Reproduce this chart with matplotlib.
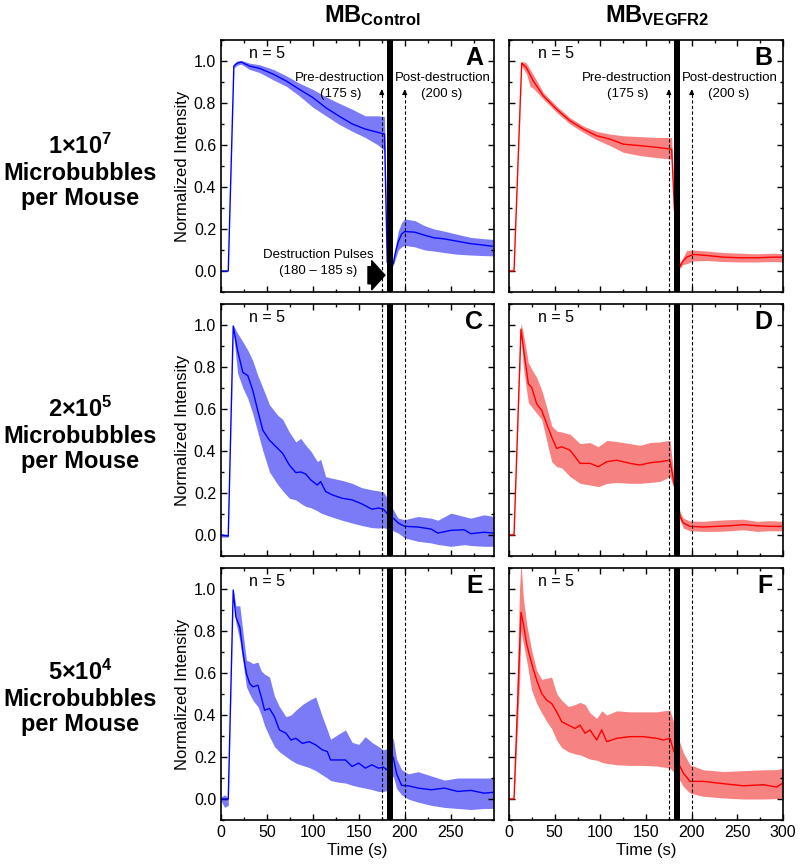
import numpy as np
import matplotlib
matplotlib.use("Agg")
import matplotlib.pyplot as plt
from matplotlib.ticker import MultipleLocator

plt.rcParams['font.family'] = ['Liberation Sans', 'DejaVu Sans']
plt.rcParams['mathtext.fontset'] = 'custom'
plt.rcParams['mathtext.rm'] = 'Liberation Sans'
plt.rcParams['mathtext.bf'] = 'Liberation Sans:bold'
plt.rcParams['mathtext.default'] = 'bf'

# ---- data: time (s), mean, lower and upper band ----
# A: MB control, 1e7
t_A = [0, 7.9, 14, 17.6, 22, 31, 42, 57, 71, 85, 100, 114, 128, 143, 157, 171, 178, 181, 187.5, 190, 193, 196.5, 200, 211, 222, 232, 243, 257, 272, 283, 297]
m_A = [0, 0, 0.976, 0.99, 0.995, 0.976, 0.965, 0.937, 0.905, 0.866, 0.826, 0.778, 0.739, 0.70, 0.676, 0.66, 0.652, 0.04, 0.035, 0.09, 0.14, 0.175, 0.188, 0.185, 0.17, 0.158, 0.153, 0.142, 0.13, 0.125, 0.117]
lo_A = [0, 0, 0.966, 0.98, 0.985, 0.96, 0.945, 0.91, 0.88, 0.835, 0.78, 0.74, 0.70, 0.665, 0.636, 0.60, 0.573, 0.03, 0.025, 0.06, 0.10, 0.115, 0.122, 0.115, 0.10, 0.095, 0.088, 0.08, 0.076, 0.074, 0.072]
hi_A = [0, 0, 0.986, 1.0, 1.003, 0.99, 0.982, 0.96, 0.93, 0.895, 0.865, 0.83, 0.80, 0.77, 0.739, 0.739, 0.735, 0.05, 0.045, 0.12, 0.19, 0.23, 0.248, 0.24, 0.215, 0.2, 0.19, 0.175, 0.16, 0.155, 0.15]

# B: MB VEGFR2, 1e7
t_B = [0, 5.5, 13.9, 19.1, 23, 26.6, 37.6, 52.2, 66.8, 81.4, 96, 110.6, 125.2, 143.4, 161.7, 178.1, 181, 187.2, 190, 194.6, 201.9, 216.5, 234.8, 253, 271.4, 289.6, 300]
m_B = [0, 0, 0.99, 0.968, 0.935, 0.905, 0.834, 0.77, 0.715, 0.676, 0.644, 0.628, 0.604, 0.597, 0.589, 0.58, 0.30, 0.02, 0.045, 0.066, 0.079, 0.074, 0.066, 0.063, 0.063, 0.066, 0.066]
lo_B = [0, 0, 0.975, 0.94, 0.88, 0.87, 0.818, 0.755, 0.70, 0.66, 0.625, 0.597, 0.565, 0.55, 0.54, 0.533, 0.28, 0.01, 0.03, 0.035, 0.048, 0.05, 0.045, 0.043, 0.043, 0.045, 0.043]
hi_B = [0, 0, 1.0, 0.99, 0.96, 0.935, 0.85, 0.785, 0.73, 0.69, 0.665, 0.652, 0.644, 0.64, 0.636, 0.636, 0.32, 0.03, 0.06, 0.098, 0.1, 0.095, 0.088, 0.085, 0.082, 0.085, 0.082]

# C: MB control, 2e5
t_C = [0, 7.9, 13.3, 18.1, 23.8, 29.2, 34.6, 40, 45.6, 52.8, 61.8, 67.2, 74.4, 81.5, 86.9, 92.3, 97.7, 104.9, 108.5, 113.9, 121.1, 131.9, 142.7, 153.4, 164.2, 171.4, 176.8, 180.4, 187.5, 192.9, 200.1, 214.4, 228.8, 236, 250.4, 264.7, 271.9, 286.3, 297]
m_C = [0, -0.005, 0.995, 0.877, 0.774, 0.759, 0.688, 0.593, 0.498, 0.451, 0.412, 0.388, 0.333, 0.297, 0.30, 0.29, 0.262, 0.238, 0.254, 0.207, 0.191, 0.175, 0.167, 0.148, 0.123, 0.128, 0.123, 0.104, 0.08, 0.057, 0.041, 0.038, 0.028, 0.009, 0.022, 0.025, 0.006, 0.013, 0.009]
lo_C = [-0.01, -0.01, 0.97, 0.77, 0.70, 0.65, 0.577, 0.49, 0.40, 0.30, 0.24, 0.21, 0.175, 0.167, 0.15, 0.136, 0.13, 0.115, 0.105, 0.096, 0.085, 0.07, 0.057, 0.045, 0.035, 0.033, 0.035, 0.03, 0.02, 0.009, -0.014, -0.03, -0.038, -0.045, -0.054, -0.046, -0.05, -0.054, -0.054]
hi_C = [0.005, 0.0, 1.0, 0.96, 0.92, 0.88, 0.83, 0.76, 0.70, 0.62, 0.57, 0.55, 0.49, 0.443, 0.46, 0.427, 0.40, 0.35, 0.36, 0.278, 0.27, 0.26, 0.246, 0.225, 0.215, 0.21, 0.205, 0.18, 0.12, 0.08, 0.073, 0.088, 0.08, 0.07, 0.104, 0.088, 0.08, 0.096, 0.088]

# D: MB VEGFR2, 2e5
t_D = [0, 5.5, 13.1, 15.7, 21.2, 24.8, 30.3, 35.8, 41.2, 46.7, 52.2, 57.7, 66.8, 77.8, 88.7, 97.8, 107, 117.9, 132.5, 143.4, 154.4, 165.3, 176.3, 180, 187.3, 190.9, 198.2, 212.8, 227.4, 242, 256.6, 271.2, 285.8, 300]
m_D = [0, 0, 0.98, 0.893, 0.719, 0.703, 0.625, 0.593, 0.53, 0.467, 0.412, 0.42, 0.404, 0.341, 0.341, 0.325, 0.349, 0.356, 0.341, 0.333, 0.344, 0.349, 0.356, 0.262, 0.088, 0.057, 0.041, 0.038, 0.041, 0.044, 0.049, 0.044, 0.041, 0.041]
lo_D = [0, 0, 0.95, 0.80, 0.63, 0.61, 0.58, 0.55, 0.45, 0.35, 0.325, 0.32, 0.278, 0.246, 0.238, 0.23, 0.245, 0.25, 0.246, 0.246, 0.25, 0.255, 0.278, 0.23, 0.07, 0.033, 0.02, 0.017, 0.017, 0.02, 0.025, 0.017, 0.02, 0.02]
hi_D = [0, 0, 1.01, 0.96, 0.82, 0.79, 0.75, 0.69, 0.61, 0.52, 0.495, 0.49, 0.48, 0.435, 0.44, 0.42, 0.45, 0.445, 0.435, 0.427, 0.44, 0.443, 0.451, 0.30, 0.11, 0.08, 0.066, 0.065, 0.07, 0.073, 0.075, 0.065, 0.068, 0.065]

# E: MB control, 5e4
t_E = [0, 4, 7.9, 13.3, 16.2, 20.5, 24.1, 27.7, 31.2, 34.8, 40.2, 43.8, 47.4, 52.8, 58.2, 63.6, 70.8, 76.2, 81.5, 88.7, 95.9, 103.1, 110.3, 115.7, 119.3, 128.3, 135.5, 142.7, 149.9, 157.1, 164.2, 171.4, 176.8, 180.4, 187.5, 191.2, 196.6, 203.8, 214.6, 228.9, 243.3, 257.7, 272, 286.4, 297]
m_E = [0, 0, 0, 0.995, 0.866, 0.818, 0.692, 0.597, 0.55, 0.534, 0.542, 0.487, 0.423, 0.431, 0.392, 0.329, 0.313, 0.281, 0.289, 0.265, 0.273, 0.258, 0.234, 0.226, 0.186, 0.186, 0.186, 0.155, 0.171, 0.147, 0.163, 0.147, 0.152, 0.139, 0.2, 0.12, 0.065, 0.063, 0.052, 0.044, 0.052, 0.036, 0.041, 0.028, 0.032]
lo_E = [-0.01, -0.04, -0.03, 0.99, 0.84, 0.755, 0.645, 0.534, 0.50, 0.47, 0.44, 0.40, 0.35, 0.297, 0.25, 0.225, 0.202, 0.185, 0.171, 0.16, 0.15, 0.135, 0.115, 0.10, 0.088, 0.08, 0.076, 0.066, 0.058, 0.052, 0.045, 0.036, 0.036, 0.04, 0.11, 0.05, 0.02, 0.0, -0.015, -0.03, -0.04, -0.045, -0.05, -0.045, -0.045]
hi_E = [0.01, 0.02, 0.005, 1.0, 0.92, 0.92, 0.787, 0.66, 0.655, 0.645, 0.652, 0.61, 0.595, 0.581, 0.49, 0.44, 0.392, 0.40, 0.423, 0.45, 0.47, 0.486, 0.392, 0.33, 0.285, 0.31, 0.329, 0.27, 0.26, 0.297, 0.27, 0.25, 0.234, 0.24, 0.29, 0.19, 0.14, 0.12, 0.13, 0.11, 0.09, 0.1, 0.1, 0.1, 0.1]

# F: MB VEGFR2, 5e4
t_F = [0, 5.5, 11.5, 13.1, 15.7, 19.3, 24.8, 30.3, 35.8, 41.2, 46.7, 52.2, 57.7, 65, 72.3, 77.8, 83.3, 88.7, 96, 101.5, 107, 117.9, 132.5, 147.1, 161.7, 169, 176.3, 180, 185.4, 190.9, 198.2, 212.8, 234.7, 256.6, 278.5, 293.1, 300]
m_F = [0, 0, 0.70, 0.889, 0.834, 0.739, 0.645, 0.566, 0.502, 0.471, 0.455, 0.415, 0.368, 0.352, 0.336, 0.352, 0.313, 0.329, 0.281, 0.329, 0.273, 0.289, 0.297, 0.297, 0.289, 0.281, 0.289, 0.234, 0.171, 0.123, 0.084, 0.084, 0.073, 0.063, 0.068, 0.057, 0.076]
lo_F = [0, 0, 0.55, 0.80, 0.74, 0.66, 0.518, 0.455, 0.41, 0.37, 0.335, 0.281, 0.245, 0.225, 0.215, 0.21, 0.2, 0.19, 0.185, 0.175, 0.17, 0.163, 0.16, 0.16, 0.157, 0.152, 0.147, 0.13, 0.1, 0.06, 0.028, 0.013, 0.005, 0.0, 0.0, 0.002, 0.005]
hi_F = [0, 0, 1.0, 1.13, 0.96, 0.834, 0.708, 0.613, 0.57, 0.575, 0.58, 0.502, 0.47, 0.44, 0.45, 0.46, 0.45, 0.41, 0.384, 0.42, 0.40, 0.42, 0.415, 0.415, 0.415, 0.42, 0.423, 0.37, 0.29, 0.22, 0.163, 0.139, 0.131, 0.135, 0.139, 0.14, 0.147]

panels = [
    ('A', t_A, m_A, lo_A, hi_A),
    ('B', t_B, m_B, lo_B, hi_B),
    ('C', t_C, m_C, lo_C, hi_C),
    ('D', t_D, m_D, lo_D, hi_D),
    ('E', t_E, m_E, lo_E, hi_E),
    ('F', t_F, m_F, lo_F, hi_F),
]
col_titles = ['MB$_{Control}$', 'MB$_{VEGFR2}$']
row_labels = ['1×10$^{7}$\nMicrobubbles\nper Mouse',
              '2×10$^{5}$\nMicrobubbles\nper Mouse',
              '5×10$^{4}$\nMicrobubbles\nper Mouse']
n_text = 'n = 5'

fig = plt.figure(figsize=(8, 8.66), dpi=100)

# axes positions in figure fractions
col_x = [0.27625, 0.63625]
col_w = [0.341, 0.3425]
row_y = [0.6628, 0.358, 0.0531]
row_h = 0.291
xmax = [297, 300]
line_col = ['#0000ff', '#ff0000']
fill_col = ['#7b7bf7', '#f78282']

for i, (letter, t, m, lo, hi) in enumerate(panels):
    r, c = i // 2, i % 2
    ax = fig.add_axes([col_x[c], row_y[r], col_w[c], row_h])
    ax.fill_between(t, lo, hi, color=fill_col[c], lw=0, zorder=1)
    ax.plot(t, m, color=line_col[c], lw=1.0, zorder=2)
    ax.set_xlim(0, xmax[c])
    ax.set_ylim(-0.1, 1.1)

    # destruction pulses
    ax.axvspan(180.5, 187, color='k', lw=0, zorder=4)
    if r == 0:
        for xv in (175, 200):
            ax.plot([xv, xv], [-0.1, 0.86], color='k', lw=0.8, ls=(0, (3, 2)), zorder=3)
            ax.annotate('', xy=(xv, 0.878), xytext=(xv, 0.84),
                        arrowprops=dict(arrowstyle='-|>', color='k', lw=0.8, mutation_scale=7))
        ax.text(178, 0.917, 'Pre-destruction', ha='right', va='center', fontsize=9.5)
        ax.text(130, 0.843, '(175 s)', ha='center', va='center', fontsize=9.5)
        ax.text(189, 0.917, 'Post-destruction', ha='left', va='center', fontsize=9.5)
        ax.text(240, 0.843, '(200 s)', ha='center', va='center', fontsize=9.5)
        if c == 0:
            ax.text(106, 0.074, 'Destruction Pulses', ha='center', va='center', fontsize=9.5)
            ax.text(106, 0.0, '(180 – 185 s)', ha='center', va='center', fontsize=9.5)
            ax.annotate('', xy=(181.5, -0.02), xytext=(157, -0.02),
                        arrowprops=dict(arrowstyle='simple,head_length=0.5,head_width=1.1,tail_width=0.65',
                                        color='k', mutation_scale=19))
    else:
        for xv in (175, 200):
            ax.axvline(xv, color='k', lw=0.8, ls=(0, (3, 2)), zorder=3)

    ax.text(0.17, 0.945, n_text, transform=ax.transAxes, ha='center', va='center', fontsize=11.5)
    ax.text(0.962, 0.93, letter, transform=ax.transAxes, ha='right', va='center',
            fontsize=18, fontweight='bold')

    ax.xaxis.set_major_locator(MultipleLocator(50))
    ax.xaxis.set_minor_locator(MultipleLocator(25))
    ax.yaxis.set_major_locator(MultipleLocator(0.2))
    ax.yaxis.set_minor_locator(MultipleLocator(0.1))
    ax.tick_params(which='both', direction='in', top=True, right=True, labelsize=11.5, width=1.0)
    ax.tick_params(which='major', length=4.5)
    ax.tick_params(which='minor', length=2.5)
    for s in ax.spines.values():
        s.set_linewidth(1.2)
    if c == 0:
        ax.set_ylabel('Normalized Intensity', fontsize=12, labelpad=3)
        ax.yaxis.set_major_formatter(matplotlib.ticker.FormatStrFormatter('%.1f'))
    else:
        ax.tick_params(labelleft=False)
    if r < 2:
        ax.tick_params(labelbottom=False)
    else:
        ax.set_xlabel('Time (s)', fontsize=12, labelpad=2)

fig.text(0.465, 0.975, col_titles[0], ha='center', va='baseline', fontsize=17, fontweight='bold')
fig.text(0.821, 0.975, col_titles[1], ha='center', va='baseline', fontsize=17, fontweight='bold')

for k, lab in enumerate(row_labels):
    fig.text(0.1, [0.8014, 0.4977, 0.194][k], lab, ha='center', va='center',
             fontsize=17, fontweight='bold', linespacing=1.15)

fig.savefig('out.png', dpi=100)
